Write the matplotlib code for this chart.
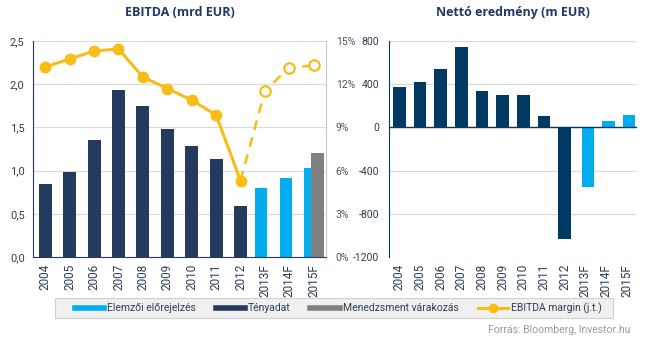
import numpy as np
import matplotlib
matplotlib.use('Agg')
import matplotlib.pyplot as plt
from matplotlib.lines import Line2D
from matplotlib.patches import Rectangle

plt.rcParams['font.family'] = ['Roboto', 'DejaVu Sans']

# data
years = ['2004', '2005', '2006', '2007', '2008', '2009', '2010', '2011', '2012',
         '2013F', '2014F', '2015F']
ebitda_actual = [0.84, 0.98, 1.35, 1.93, 1.75, 1.48, 1.29, 1.14, 0.59]
ebitda_forecast = [0.80, 0.92, 1.03]
ebitda_mgmt = [1.20]
margin_actual = [13.2, 13.75, 14.3, 14.45, 12.5, 11.7, 10.9, 9.85, 5.3]
margin_forecast = [11.55, 13.15, 13.3]
net_actual = [370, 425, 540, 745, 340, 300, 300, 105, -1030]
net_forecast = [-550, 60, 115]

navy = '#243a5e'
navy2 = '#003a63'
light = '#00aeef'
gray = '#808080'
yellow = '#f7bd14'
grid = '#d9d9d9'
txt = '#2b3e55'

x = np.arange(len(years))
xa = x[:len(ebitda_actual)]
xf = x[len(ebitda_actual):]

fig = plt.figure(figsize=(6.45, 3.42), dpi=100)

# ---- left chart: EBITDA ----
ax = fig.add_axes([33 / 645, 1 - 257 / 342, 293 / 645, 216 / 342])
ax.bar(xa, ebitda_actual, width=0.53, color=navy, zorder=2)
ax.bar(xf - 0.15, ebitda_forecast, width=0.5, color=light, zorder=2)
ax.bar(xf[-1:] + 0.17, ebitda_mgmt, width=0.53, color=gray, zorder=3)
ax.set_xlim(-0.5, len(years) - 0.5)
ax.set_ylim(0, 2.5)
ax.set_yticks(np.arange(0, 2.51, 0.5))
ax.set_yticklabels([f'{v:.1f}'.replace('.', ',') for v in np.arange(0, 2.51, 0.5)])
ax.set_xticks(x)
ax.set_xticklabels(years, rotation=90)
ax.yaxis.grid(True, color=grid, lw=0.8, zorder=0)
ax.set_axisbelow(True)
ax.tick_params(length=0, colors=txt, labelsize=8)
ax.tick_params(axis='x', labelsize=8.5, pad=5)
ax.tick_params(axis='y', pad=6)
for s in ['left', 'bottom']:
    ax.spines[s].set_color(navy)
ax.spines['top'].set_visible(False)
ax.spines['right'].set_color('#c8c8c8')
ax.set_title('EBITDA (mrd EUR)', fontsize=9, fontweight='bold', color='#1f3864', pad=18,
             family=['Open Sans', 'DejaVu Sans'])

ax2 = ax.twinx()
ax2.set_ylim(0, 15)
ax2.set_yticks(range(0, 16, 3))
ax2.set_yticklabels([f'{v}%' for v in range(0, 16, 3)])
ax2.tick_params(length=0, colors='#4a5566', labelsize=7.5, pad=7)
for s in ax2.spines.values():
    s.set_visible(False)
ax2.plot(xa, margin_actual, color=yellow, lw=2.2, marker='o', ms=7.5, zorder=4)
ax2.plot(np.r_[xa[-1], xf], [margin_actual[-1]] + margin_forecast, color=yellow,
         lw=1.8, ls=(0, (4, 3)), zorder=3)
ax2.plot(xf, margin_forecast, ls='none', marker='o', ms=7.5, mfc='white',
         mec=yellow, mew=1.6, zorder=5)

# ---- right chart: net result ----
bx = fig.add_axes([389 / 645, 1 - 257 / 342, 248 / 645, 216 / 342])
bx.bar(xa, net_actual, width=0.6, color=navy2, zorder=2)
bx.bar(xf + 0.12, net_forecast, width=0.6, color=light, zorder=2)
bx.set_xlim(-0.5, len(years) - 0.5)
bx.set_ylim(-1200, 800)
bx.set_yticks(range(-1200, 801, 400))
bx.set_yticklabels([str(v) for v in range(-1200, 801, 400)])
bx.set_xticks(x)
bx.set_xticklabels(years, rotation=90)
bx.yaxis.grid(True, color=grid, lw=0.8, zorder=0)
bx.set_axisbelow(True)
bx.axhline(0, color=navy2, lw=1, zorder=3)
bx.tick_params(length=0, colors=txt, labelsize=7.5)
bx.tick_params(axis='x', labelsize=8.5, pad=5)
bx.tick_params(axis='y', pad=7)
bx.spines['left'].set_color(navy2)
for s in ['top', 'right', 'bottom']:
    bx.spines[s].set_visible(False)
bx.set_title('Nettó eredmény (m EUR)', fontsize=9, fontweight='bold', color='#1f3864', pad=18,
             family=['Open Sans', 'DejaVu Sans'])

# ---- legend & source ----
fig.patches.append(Rectangle((55 / 645, 1 - 318 / 342), 558 / 645, 20 / 342,
                             transform=fig.transFigure, facecolor='#f0f0f0',
                             edgecolor='#d0d0d0', lw=0.8, zorder=0))
handles = [Line2D([], [], color=light, lw=4),
           Line2D([], [], color=navy, lw=4),
           Line2D([], [], color=gray, lw=4),
           Line2D([], [], color=yellow, lw=2.2, marker='o', ms=6)]
labels = ['Elemzői előrejelzés', 'Tényadat', 'Menedzsment várakozás', 'EBITDA margin (j.t.)']
leg = fig.legend(handles, labels, ncol=4, loc='center', bbox_to_anchor=(338 / 645, 1 - 308 / 342),
                 fontsize=7.5, frameon=False, handlelength=2.8,
                 handletextpad=0.3, columnspacing=1.9)
for t in leg.get_texts():
    t.set_color(txt)

fig.text(630 / 645, 1 - 330 / 342, 'Forrás: Bloomberg, Investor.hu', ha='right', va='center',
         fontsize=7.5, color='#999999')

fig.savefig('out.png', dpi=100)
